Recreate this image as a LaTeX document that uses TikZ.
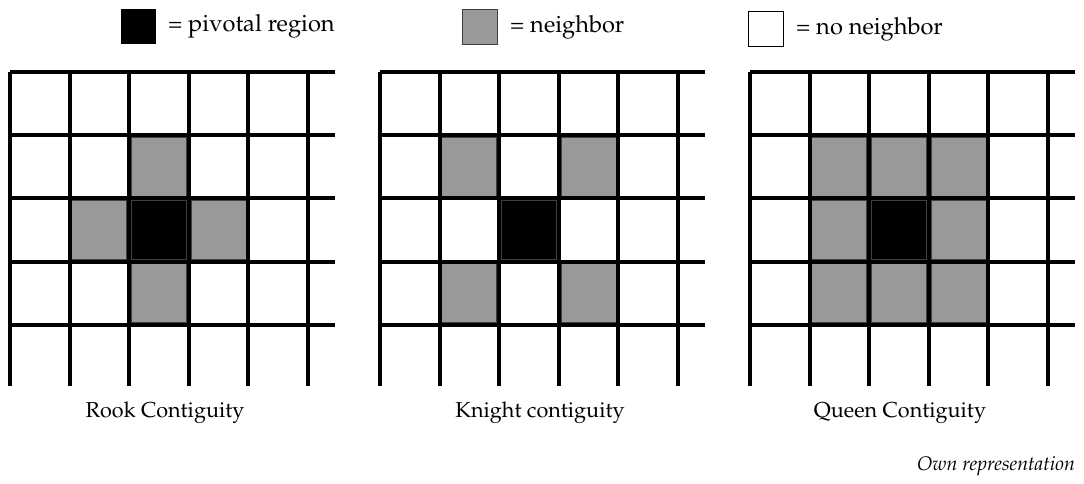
\documentclass[tikz,border=0pt]{standalone}
\usepackage[T1]{fontenc}
\usepackage{mathpazo}
\usetikzlibrary{positioning}

% una cella della griglia (colonna, riga, stile)
\newcommand{\cella}[3]{\draw[#3] ({#1*59.6+2.2},{72+#2*63.2+2.2}) rectangle ++(55.2,58.8);}

\begin{document}
\begin{tikzpicture}[x=0.5pt,y=-0.5pt,
    griglia/.style={line width=2pt},
    nbr/.style={fill=black!40, draw=black!75, line width=0.6pt},
    pivot/.style={fill=black, draw=black!75, line width=0.6pt},
    key/.style={minimum width=17.5pt, minimum height=17.5pt, inner sep=0pt, line width=0.5pt},
    lbl/.style={font=\fontsize{11.8}{14}\selectfont},
    didasc/.style={font=\fontsize{10.8}{13}\selectfont}]
    \useasboundingbox (0,0) rectangle (1084,483);

    % Legenda
    \node[key, fill=black] (kpivot) at (138,26) {};
    \node[lbl, right=2.5pt of kpivot] (tpivot) {= pivotal region};
    \node[key, fill=black!40, draw=black!75] (knbr) at (480,27) {};
    \node[lbl, right=2.5pt of knbr] (tnbr) {= neighbor};
    \node[key, draw=black] (kno) at (766,29) {};
    \node[lbl, right=2.5pt of kno] (tno) {= no neighbor};

    % Rook
    \begin{scope}[shift={(10,0)}]
        \foreach \c/\r in {2/1,1/2,3/2,2/3} {\cella{\c}{\r}{nbr}}
        \cella{2}{2}{pivot}
    \end{scope}
    % Knight
    \begin{scope}[shift={(380,0)}]
        \foreach \c/\r in {1/1,3/1,1/3,3/3} {\cella{\c}{\r}{nbr}}
        \cella{2}{2}{pivot}
    \end{scope}
    % Queen
    \begin{scope}[shift={(750,0)}]
        \foreach \c/\r in {1/1,2/1,3/1,1/2,3/2,1/3,2/3,3/3} {\cella{\c}{\r}{nbr}}
        \cella{2}{2}{pivot}
    \end{scope}

    % Griglie (sopra le celle)
    \foreach \gx in {10,380,750} {
        \begin{scope}[shift={(\gx,0)}]
            \foreach \i in {0,...,5} \draw[griglia] ({\i*59.6},72) -- ++(0,314);
            \foreach \j in {0,...,4} \draw[griglia] (0,{72+\j*63.2}) -- ++(325,0);
        \end{scope}
    }

    % Didascalie
    \node[didasc] (rook) at (165,413) {Rook Contiguity};
    \node[didasc] (knight) at (540,413) {Knight contiguity};
    \node[didasc] (queen) at (900,413) {Queen Contiguity};
    \node[anchor=east, font=\fontsize{9.8}{12}\selectfont\itshape] (fonte) at (1082,466) {Own representation};
\end{tikzpicture}
\end{document}
